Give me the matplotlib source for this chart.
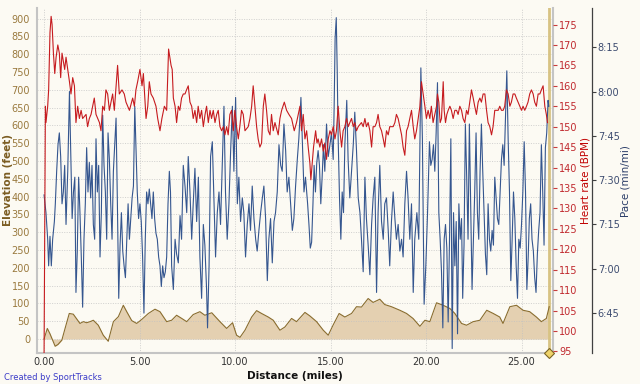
import matplotlib
matplotlib.use("Agg")
import matplotlib.pyplot as plt
from matplotlib.ticker import FuncFormatter, MultipleLocator

# elevation profile: distance (miles), elevation (feet)
elev_dist = [0.00, 0.17, 0.31, 0.58, 0.73, 0.93, 1.10, 1.32, 1.53, 1.88, 2.06, 2.23, 2.41, 2.58,
             2.84, 3.10, 3.36, 3.63, 3.89, 4.15, 4.33, 4.59, 4.85, 5.11, 5.46, 5.81, 6.07, 6.42,
             6.68, 6.94, 7.21, 7.47, 7.81, 8.16, 8.42, 8.78, 9.21, 9.56, 9.87, 10.08, 10.26,
             10.52, 10.87, 11.13, 11.39, 11.74, 12.00, 12.35, 12.61, 12.96, 13.22, 13.66, 13.92,
             14.27, 14.62, 14.88, 15.14, 15.45, 15.75, 16.10, 16.36, 16.62, 16.97, 17.23, 17.58,
             17.84, 18.19, 18.63, 18.98, 19.32, 19.68, 19.94, 20.20, 20.55, 20.90, 21.25, 21.51,
             21.86, 22.12, 22.47, 22.82, 23.18, 23.52, 23.86, 24.03, 24.39, 24.74, 25.08, 25.43,
             25.78, 26.04, 26.30, 26.45]
elev_ft = [0, 30, 15, -20, -15, -3, 30, 72, 70, 44, 49, 46, 49, 53,
           39, 11, -6, 49, 63, 95, 77, 52, 44, 55, 72, 84, 77, 49,
           53, 67, 58, 49, 69, 77, 67, 74, 49, 30, 46, 11, 5,
           25, 62, 80, 72, 62, 53, 25, 34, 58, 49, 75, 65,
           49, 25, 11, 40, 72, 62, 72, 91, 90, 114, 103, 112,
           97, 91, 81, 72, 58, 36, 53, 49, 102, 95, 86, 72,
           44, 39, 49, 53, 81, 72, 62, 44, 91, 95, 81, 77,
           62, 49, 58, 91]

# heart rate: distance (miles), bpm
hr_dist = [0.00, 0.07, 0.10, 0.19, 0.24, 0.31, 0.37, 0.42, 0.49, 0.56, 0.63, 0.72, 0.80, 0.87,
           0.94, 1.01, 1.08, 1.15, 1.24, 1.33, 1.41, 1.50, 1.59, 1.67, 1.76, 1.85, 1.94, 2.02,
           2.20, 2.28, 2.37, 2.46, 2.63, 2.72, 2.90, 2.98, 3.07, 3.16, 3.24, 3.33, 3.42, 3.59,
           3.68, 3.85, 3.94, 4.08, 4.20, 4.29, 4.47, 4.64, 4.73, 4.81, 4.90, 5.02, 5.13, 5.20,
           5.34, 5.43, 5.51, 5.60, 5.72, 5.86, 5.95, 6.07, 6.17, 6.30, 6.42, 6.52, 6.65, 6.71,
           6.77, 6.86, 6.94, 7.03, 7.11, 7.20, 7.29, 7.38, 7.46, 7.55, 7.64, 7.73, 7.81, 7.90,
           7.99, 8.07, 8.16, 8.25, 8.34, 8.43, 8.51, 8.60, 8.69, 8.77, 8.86, 8.95, 9.04, 9.12,
           9.21, 9.30, 9.39, 9.47, 9.56, 9.64, 9.73, 9.82, 9.91, 9.99, 10.08, 10.17, 10.25,
           10.34, 10.43, 10.52, 10.69, 10.78, 10.87, 10.95, 11.04, 11.13, 11.21, 11.30, 11.39,
           11.48, 11.56, 11.65, 11.74, 11.83, 11.91, 12.00, 12.09, 12.26, 12.35, 12.44, 12.58,
           12.70, 12.82, 12.96, 13.10, 13.22, 13.31, 13.40, 13.48, 13.57, 13.66, 13.75, 13.83,
           13.92, 13.97, 14.04, 14.11, 14.22, 14.29, 14.35, 14.44, 14.53, 14.62, 14.70, 14.79,
           14.88, 14.97, 15.05, 15.14, 15.23, 15.31, 15.40, 15.49, 15.58, 15.66, 15.75, 15.84,
           15.93, 16.01, 16.10, 16.19, 16.27, 16.36, 16.45, 16.62, 16.71, 16.80, 16.88, 16.97,
           17.06, 17.15, 17.23, 17.32, 17.41, 17.49, 17.58, 17.67, 17.76, 17.84, 17.93, 18.02,
           18.10, 18.19, 18.28, 18.37, 18.45, 18.54, 18.63, 18.72, 18.80, 18.89, 18.98, 19.06,
           19.15, 19.24, 19.33, 19.41, 19.50, 19.59, 19.68, 19.76, 19.85, 19.94, 20.02, 20.11,
           20.20, 20.28, 20.37, 20.46, 20.55, 20.60, 20.67, 20.74, 20.81, 20.90, 20.95, 21.02,
           21.09, 21.16, 21.25, 21.33, 21.42, 21.51, 21.60, 21.68, 21.77, 21.86, 21.94, 22.03,
           22.12, 22.20, 22.29, 22.38, 22.47, 22.55, 22.64, 22.73, 22.82, 22.90, 22.99, 23.08,
           23.17, 23.25, 23.34, 23.43, 23.51, 23.60, 23.69, 23.78, 23.86, 23.95, 24.04, 24.12,
           24.21, 24.30, 24.39, 24.47, 24.56, 24.65, 24.73, 24.82, 24.91, 25.00, 25.08, 25.17,
           25.26, 25.34, 25.43, 25.52, 25.61, 25.69, 25.78, 25.87, 25.96, 26.04, 26.13, 26.22,
           26.30, 26.36]
hr_bpm = [94, 155, 151, 155, 159, 173, 177, 175, 168, 163, 167, 170, 168, 162,
          168, 166, 164, 167, 164, 161, 158, 162, 160, 151, 155, 152, 154, 152,
          153, 150, 152, 153, 157, 153, 151, 149, 155, 154, 159, 158, 154, 158,
          154, 165, 158, 159, 158, 156, 154, 157, 155, 159, 161, 164, 160, 163,
          152, 155, 161, 158, 157, 155, 152, 149, 152, 155, 154, 169, 165, 164,
          157, 155, 151, 155, 154, 157, 158, 158, 159, 160, 156, 155, 152, 154,
          151, 155, 152, 154, 150, 153, 155, 151, 154, 152, 154, 151, 153, 154,
          150, 149, 150, 148, 150, 148, 153, 154, 149, 154, 150, 147, 150,
          154, 153, 149, 150, 152, 155, 160, 155, 150, 147, 145, 146,
          155, 158, 154, 149, 148, 153, 149, 151, 148, 152, 154, 156,
          154, 153, 152, 149, 151, 153, 155, 149, 153, 147, 149, 145,
          141, 137, 141, 145, 149, 146, 147, 145, 147, 144, 146, 142,
          147, 149, 148, 150, 147, 149, 155, 149, 145, 149, 150, 152,
          150, 151, 152, 150, 151, 149, 150, 151, 150, 152, 150, 151,
          149, 145, 150, 150, 151, 153, 150, 149, 147, 145, 149, 148,
          150, 150, 150, 151, 153, 152, 150, 148, 145, 143, 149, 150,
          152, 154, 150, 147, 149, 152, 155, 161, 158, 155, 152, 154,
          152, 155, 151, 153, 155, 158, 156, 151, 152, 161, 154, 151,
          153, 154, 155, 154, 152, 154, 154, 153, 155, 154, 152, 151,
          154, 153, 156, 159, 157, 155, 153, 156, 157, 156, 158, 158,
          154, 151, 150, 148, 150, 154, 154, 154, 155, 154, 154, 155,
          159, 158, 155, 156, 158, 158, 157, 156, 155, 154, 155, 154,
          155, 156, 158, 159, 158, 156, 155, 158, 158, 159, 160, 155,
          153, 151]

# pace: distance (miles), seconds per mile
pace_dist = [0.00, 0.10, 0.19, 0.24, 0.31, 0.38, 0.45, 0.54, 0.59, 0.66, 0.73, 0.80, 0.87, 0.94,
             1.01, 1.08, 1.15, 1.24, 1.33, 1.40, 1.47, 1.54, 1.61, 1.67, 1.74, 1.81, 1.88, 1.95,
             2.02, 2.09, 2.16, 2.23, 2.30, 2.37, 2.44, 2.51, 2.58, 2.65, 2.72, 2.79, 2.86, 2.93,
             3.00, 3.07, 3.14, 3.21, 3.28, 3.35, 3.42, 3.49, 3.56, 3.63, 3.70, 3.77, 3.84, 3.91,
             3.98, 4.05, 4.12, 4.19, 4.26, 4.33, 4.40, 4.47, 4.54, 4.61, 4.68, 4.75, 4.81, 4.88,
             4.95, 5.02, 5.09, 5.16, 5.23, 5.30, 5.37, 5.44, 5.51, 5.58, 5.65, 5.72, 5.79, 5.86,
             5.93, 6.00, 6.07, 6.14, 6.21, 6.28, 6.35, 6.42, 6.49, 6.56, 6.62, 6.68, 6.77, 6.86,
             6.94, 7.03, 7.12, 7.20, 7.29, 7.38, 7.47, 7.55, 7.64, 7.73, 7.81, 7.90, 7.99, 8.08,
             8.16, 8.25, 8.34, 8.42, 8.51, 8.56, 8.64, 8.72, 8.81, 8.90, 8.98, 9.07, 9.16, 9.24,
             9.33, 9.42, 9.50, 9.59, 9.68, 9.77, 9.86, 9.94, 10.03, 10.12, 10.20, 10.29, 10.38,
             10.46, 10.55, 10.64, 10.73, 10.81, 10.90, 10.99, 11.08, 11.16, 11.25, 11.34, 11.43,
             11.51, 11.60, 11.69, 11.77, 11.86, 11.95, 12.04, 12.12, 12.21, 12.30, 12.39, 12.47,
             12.56, 12.65, 12.73, 12.82, 12.91, 13.00, 13.08, 13.17, 13.26, 13.34, 13.45, 13.52,
             13.61, 13.69, 13.80, 13.87, 13.94, 14.01, 14.08, 14.14, 14.21, 14.28, 14.35, 14.42,
             14.49, 14.56, 14.63, 14.70, 14.79, 14.88, 14.97, 15.05, 15.14, 15.19, 15.24, 15.30,
             15.35, 15.40, 15.47, 15.54, 15.61, 15.68, 15.75, 15.85, 15.92, 16.01, 16.10, 16.19,
             16.27, 16.36, 16.45, 16.54, 16.62, 16.71, 16.80, 16.88, 16.97, 17.06, 17.15, 17.23,
             17.32, 17.41, 17.49, 17.58, 17.67, 17.76, 17.84, 17.93, 18.02, 18.10, 18.19, 18.28,
             18.37, 18.45, 18.54, 18.63, 18.72, 18.80, 18.89, 18.98, 19.06, 19.15, 19.24, 19.33,
             19.41, 19.52, 19.62, 19.73, 19.81, 19.90, 19.99, 20.08, 20.18, 20.25, 20.32, 20.39,
             20.46, 20.53, 20.60, 20.67, 20.74, 20.81, 20.88, 20.95, 21.02, 21.09, 21.16, 21.23,
             21.30, 21.37, 21.44, 21.51, 21.58, 21.65, 21.72, 21.79, 21.86, 21.92, 21.99, 22.06,
             22.13, 22.20, 22.27, 22.34, 22.41, 22.48, 22.55, 22.62, 22.69, 22.76, 22.83, 22.90,
             22.97, 23.04, 23.11, 23.18, 23.25, 23.32, 23.39, 23.46, 23.53, 23.60, 23.67, 23.74,
             23.81, 23.88, 23.95, 24.02, 24.09, 24.16, 24.23, 24.30, 24.37, 24.44, 24.51, 24.58,
             24.65, 24.72, 24.79, 24.86, 24.93, 25.00, 25.07, 25.14, 25.21, 25.28, 25.35, 25.41,
             25.48, 25.55, 25.62, 25.69, 25.76, 25.83, 25.90, 25.97, 26.04, 26.11, 26.18, 26.25,
             26.32, 26.39, 26.43]
pace_sec = [445, 439, 430, 421, 431, 421, 430, 436, 442, 453, 462, 466, 458, 442,
            446, 455, 435, 453, 480, 458, 437, 446, 451, 412, 426, 451, 439, 424,
            407, 430, 442, 461, 446, 456, 444, 455, 435, 430, 464, 446, 455, 424,
            439, 472, 455, 446, 430, 466, 457, 442, 430, 453, 462, 471, 442, 410,
            428, 439, 426, 421, 417, 430, 442, 430, 437, 444, 448, 475, 462, 446,
            437, 442, 436, 424, 405, 430, 446, 442, 447, 442, 437, 446, 437, 432,
            430, 424, 421, 414, 421, 417, 419, 424, 442, 453, 446, 421, 413, 430,
            425, 422, 438, 430, 455, 448, 439, 458, 446, 430, 442, 454, 436, 451,
            424, 410, 435, 428, 413, 400, 421, 458, 463, 442, 424, 439, 446, 435,
            455, 475, 446, 430, 442, 460, 475, 453, 478, 442, 451, 436, 444,
            439, 424, 435, 442, 433, 448, 437, 430, 426, 433, 439, 444,
            448, 437, 416, 430, 437, 422, 436, 439, 446, 462, 455, 453,
            469, 460, 446, 451, 442, 433, 437, 448, 457, 464, 478, 464,
            446, 451, 442, 435, 427, 429, 442, 455, 446, 456, 460, 455,
            442, 451, 462, 453, 469, 458, 462, 466, 457, 475, 498, 505,
            487, 464, 444, 430, 446, 439, 462, 477, 457, 444, 453, 462,
            473, 460, 444, 439, 430, 419, 451, 437, 428, 418, 435, 444,
            451, 412, 439, 455, 436, 430, 442, 444, 433, 421, 436, 446,
            437, 430, 435, 426, 430, 424, 442, 453, 444, 430, 442, 412,
            430, 439, 430, 488, 464, 408, 421, 439, 463, 455, 457, 462,
            453, 466, 483, 439, 430, 419, 400, 430, 435, 427, 402, 430,
            464, 393, 439, 421, 436, 398, 442, 430, 437, 410, 428, 469,
            451, 430, 469, 442, 413, 430, 446, 466, 439, 430, 453, 469,
            453, 439, 425, 418, 442, 430, 426, 433, 428, 451, 444, 437,
            435, 446, 457, 462, 455, 471, 487, 464, 446, 416, 430, 446,
            437, 421, 410, 430, 427, 435, 446, 463, 446, 413, 424, 437,
            442, 430, 426, 417, 412, 425, 433, 439, 462, 446, 428, 461,
            466, 477, 475]

elev_ticks = list(range(0, 901, 50))
hr_ticks = list(range(95, 176, 5))
pace_ticks = [405, 420, 435, 450, 465, 480, 495]
dist_ticks = [0, 5, 10, 15, 20, 25]

BG = "#fcfaf3"


def pace_label(v, pos):
    v = int(round(v))
    return "%d:%02d" % (v // 60, v % 60)


def main():
    fig = plt.figure(figsize=(6.4, 3.84), dpi=100, facecolor=BG)
    ax = fig.add_axes([0.0578, 0.0807, 0.806, 0.898])
    ax.set_facecolor(BG)

    # elevation (left axis)
    ax.fill_between(elev_dist, elev_ft, 0, color="#e4d0b1", lw=0, zorder=1)
    ax.plot(elev_dist, elev_ft, color="#8a6d2f", lw=0.8, zorder=3)
    ax.set_xlim(-0.37, 26.64)
    ax.set_ylim(-39, 929)
    ax.set_xticks(dist_ticks)
    ax.set_xticklabels(["%.2f" % d for d in dist_ticks])
    ax.set_yticks(elev_ticks)
    ax.grid(True, color="#c2c2c2", lw=0.5, ls=(0, (1.5, 2)))
    ax.tick_params(axis="y", length=0, pad=5, labelsize=7, labelcolor="#9a7a3e")
    ax.tick_params(axis="x", length=0, pad=3, labelsize=7, labelcolor="#333333")
    ax.spines["top"].set_visible(False)
    for s in ["left", "bottom", "right"]:
        ax.spines[s].set_color("#c4c4c4")
        ax.spines[s].set_linewidth(1.5)

    # end of activity marker
    end_d = elev_dist[-1]
    ax.axvline(end_d, color="#d8c383", lw=2, zorder=2)
    ax.plot([end_d], [-39], marker="D", ms=5, mfc="#efd36a", mec="#7a6424", mew=0.8,
            clip_on=False, zorder=6)

    # pace (outer right axis)
    axp = ax.twinx()
    axp.plot(pace_dist, pace_sec, color="#35568f", lw=0.8)
    axp.set_ylim(391.5, 508.2)
    axp.set_yticks(pace_ticks)
    axp.yaxis.set_major_formatter(FuncFormatter(pace_label))
    axp.spines["right"].set_position(("axes", 1.075))
    axp.spines["right"].set_color("#404040")
    axp.spines["right"].set_linewidth(0.9)
    for s in ["top", "left", "bottom"]:
        axp.spines[s].set_visible(False)
    axp.tick_params(axis="y", length=3, width=0.8, color="#404040", pad=1.5,
                    labelsize=7, labelcolor="#3d4c70")

    # heart rate (inner right axis)
    axh = ax.twinx()
    axh.plot(hr_dist, hr_bpm, color="#c61b1f", lw=0.8)
    axh.set_ylim(94.6, 179)
    axh.set_yticks(hr_ticks)
    for s in ["top", "left", "bottom", "right"]:
        axh.spines[s].set_visible(False)
    axh.tick_params(axis="y", length=3, width=0.8, color="#c83c3c", pad=1.5,
                    labelsize=7, labelcolor="#c0282d")

    fig.text(8 / 640, 0.531, "Elevation (feet)", rotation=90, ha="center", va="center",
             fontsize=7.5, fontweight="bold", color="#7c5d22")
    fig.text(586 / 640, 0.531, "Heart rate (BPM)", rotation=90, ha="center", va="center",
             fontsize=7.5, color="#c00000")
    fig.text(625 / 640, 0.529, "Pace (min/mi)", rotation=90, ha="center", va="center",
             fontsize=7.5, color="#2b3d68")
    fig.text(295 / 640, 0.021, "Distance (miles)", ha="center", va="center",
             fontsize=7.5, fontweight="bold", color="#111111")
    fig.text(4 / 640, 0.018, "Created by SportTracks", ha="left", va="center",
             fontsize=6, color="#3c3cc8")

    fig.savefig("out.png", dpi=100, facecolor=BG)


if __name__ == "__main__":
    main()
